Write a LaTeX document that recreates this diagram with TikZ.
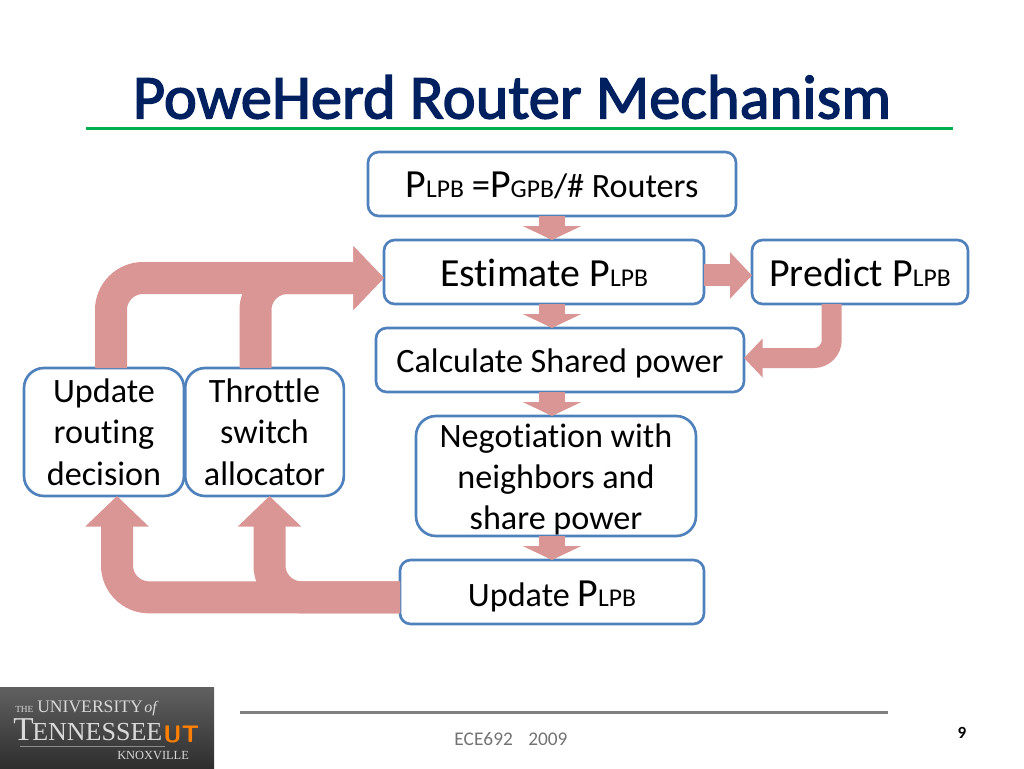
\documentclass[tikz,border=0pt]{standalone}
\usepackage{fontspec}
\setmainfont[Ligatures=NoCommon]{Carlito}
\newfontfamily\logofont{Liberation Serif}
\newfontfamily\titlefont[Ligatures=NoCommon,FakeBold=2.2]{Carlito}
\usetikzlibrary{arrows.meta}
\definecolor{boxblue}{HTML}{4F81BD}
\definecolor{arrowpink}{HTML}{D99694}
\definecolor{titleblue}{HTML}{002060}
\definecolor{rulegreen}{HTML}{00B050}
\newcommand{\sublabel}[1]{{\fontsize{19.2}{23}\selectfont #1}}
\newcommand{\bigP}{{\fontsize{29.9}{36}\selectfont P}}
\newcommand{\lowered}[1]{\rule{0pt}{#1}}
\tikzset{
  flowbox/.style={draw=boxblue,line width=2pt,fill=white,rounded corners=8pt,
    outer sep=0pt,inner sep=0pt,align=center,text=black,minimum height=48pt,
    font=\fontsize{25.6}{31}\selectfont},
  bigarrow/.style={draw=arrowpink,line width=24pt,rounded corners=24pt,
    -{Triangle[length=23pt,width=46.5pt]}},
  smallarrow/.style={draw=arrowpink,line width=20pt,
    -{Triangle[length=10.5pt,width=43.5pt]}},
  sidearrow/.style={draw=arrowpink,line width=16.5pt,
    -{Triangle[length=16.5pt,width=34pt]}},
  hookarrow/.style={draw=arrowpink,line width=15pt,rounded corners=13.5pt,
    -{Triangle[length=14pt,width=28.5pt]}}
}
\begin{document}
\begin{tikzpicture}[x=0.75pt,y=-0.75pt]
\useasboundingbox (0,0) rectangle (1024,768);

% title
\node[text=titleblue,font=\titlefont\fontsize{46.9}{56}\selectfont] (title) at (512,97) {PoweHerd Router Mechanism};
\coordinate (ruleL) at (86,128);
\coordinate (ruleR) at (953,128);
\draw[rulegreen,line width=2.25pt] (ruleL) -- (ruleR);

% boxes
\node[flowbox,minimum width=276pt] (share) at (552,184) {\lowered{22pt}\bigP\sublabel{LPB} {\fontsize{27.5}{33}\selectfont =}\bigP\sublabel{GPB}/\# Routers};
\node[flowbox,minimum width=240pt,font=\fontsize{29.9}{36}\selectfont] (estimate) at (544,272) {\lowered{22.5pt}Estimate P\sublabel{LPB}};
\node[flowbox,minimum width=162pt,font=\fontsize{29.9}{36}\selectfont] (predict) at (860,272) {\lowered{22.5pt}Predict P\sublabel{LPB}};
\node[flowbox,minimum width=276pt] (calc) at (560,360) {\lowered{23.2pt}Calculate Shared power};
\node[flowbox,minimum width=210pt,minimum height=90pt,rounded corners=15pt] (negotiate) at (556,476) {\lowered{23pt}Negotiation with\\neighbors and\\share power};
\node[flowbox,minimum width=228pt] (update) at (552,592) {\lowered{26pt}Update \bigP\sublabel{LPB}};
\node[flowbox,minimum width=120pt,minimum height=96pt,rounded corners=15pt] (routing) at (104,432) {Update\\routing\\decision};
\node[flowbox,minimum width=119pt,minimum height=96pt,rounded corners=15pt] (throttle) at (264.5,432) {Throttle\\switch\\allocator};

% arrows
\draw[smallarrow] (share.south) -- (estimate.north -| share.south);
\draw[smallarrow] (estimate.south -| share.south) -- (calc.north -| share.south);
\draw[smallarrow] (calc.south -| share.south) -- (negotiate.north -| share.south);
\draw[smallarrow] (negotiate.south -| share.south) -- (update.north);
\draw[sidearrow] ([yshift=-2.6pt]estimate.east) -- ([yshift=-2.6pt]predict.west);
\draw[hookarrow] ([xshift=-21.2pt]predict.south) |- ([yshift=1.5pt]calc.east);
\draw[bigarrow] ([xshift=5.25pt]routing.north) |- ([yshift=-4.5pt]estimate.west);
\draw[bigarrow] ([xshift=-6.75pt]throttle.north) |- ([yshift=-4.5pt]estimate.west);
\draw[bigarrow] ([yshift=-4pt]update.west) -| ([xshift=9.75pt]routing.south);
\draw[bigarrow] ([yshift=-4pt]update.west) -| ([xshift=3.75pt]throttle.south);

% footer
\coordinate (footL) at (240,712);
\coordinate (footR) at (888,712);
\draw[gray,line width=2.25pt] (footL) -- (footR);
\node[text=black!55,font=\fontsize{14.5}{17}\selectfont] (course) at (511,739) {ECE692\hspace{0.8em}2009};
\node[font=\fontsize{12.8}{15}\selectfont\bfseries] (pagenum) at (962,733) {9};

% logo
\shade[top color=black!62,bottom color=black!82] (0,687) rectangle (214,768);
\node[anchor=base west,inner sep=0pt,text=black!15,font=\logofont\fontsize{7}{8}\selectfont] (logothe) at (15,712) {THE};
\node[anchor=base west,inner sep=0pt,text=black!15,font=\logofont\fontsize{13.2}{16}\selectfont] (logouni) at (37,712) {UNIVERSITY};
\node[anchor=base west,inner sep=0pt,text=black!15,font=\logofont\itshape\fontsize{12}{14}\selectfont] (logoof) at (144,712) {of};
\node[anchor=base west,inner sep=0pt,text=black!15,font=\logofont\fontsize{25}{28}\selectfont] (logoten) at (13,740) {T\kern-1pt{\fontsize{19.5}{24}\selectfont ENNESSEE}};
\node[anchor=base west,inner sep=0pt,text=orange,font=\sffamily\bfseries\fontsize{18}{20}\selectfont] (logout) at (163,742) {UT};
\coordinate (logoL) at (20,746);
\coordinate (logoR) at (165,746);
\draw[black!45,line width=0.6pt] (logoL) -- (logoR);
\node[anchor=base west,inner sep=0pt,text=black!15,font=\logofont\fontsize{9.3}{12}\selectfont] (logoknox) at (117,759) {KNOXVILLE};
\end{tikzpicture}
\end{document}
